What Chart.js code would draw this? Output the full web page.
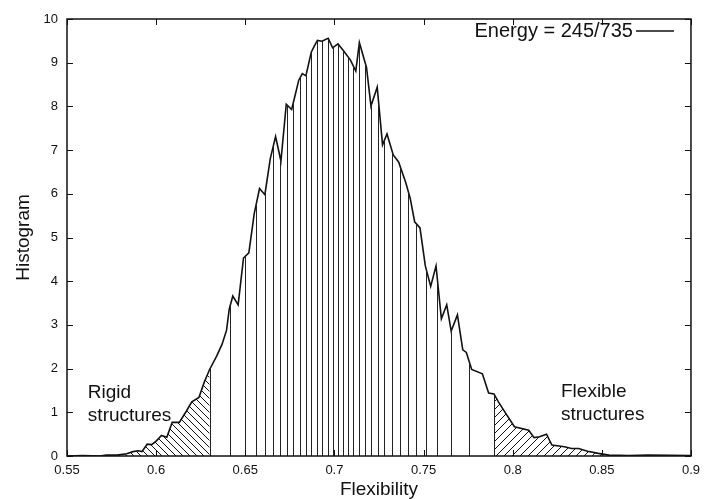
<!DOCTYPE html>
<html>
<head>
<meta charset="utf-8">
<script src="https://cdn.jsdelivr.net/npm/chart.js@4.4.1/dist/chart.umd.min.js"></script>
<style>
html, body { margin:0; padding:0; background:#fff; }
</style>
</head>
<body>
<canvas id="canvasGraph" width="707" height="499"></canvas>
<script>
var flexibilite = [0.550,0.559,0.5685,0.572,0.578,0.5835,0.587,0.590,0.592,0.595,0.5975,0.600,0.603,0.606,0.609,0.613,0.617,0.620,0.624,0.627,
    0.630,0.634,0.637,0.6395,0.641,0.643,0.646,0.649,0.652,0.655,0.658,0.661,0.664,0.667,0.670,0.673,0.676,0.678,0.680,0.682,
    0.684,0.687,0.689,0.6905,0.693,0.6965,0.699,0.702,0.705,0.709,0.712,0.714,0.718,0.7205,0.724,0.727,0.7295,0.733,0.736,0.740,
    0.7425,0.745,0.748,0.751,0.754,0.757,0.760,0.763,0.7655,0.769,0.772,0.774,0.777,0.783,0.7865,0.7895,0.792,0.796,0.801,0.809,
    0.812,0.815,0.819,0.822,0.829,0.833,0.837,0.842,0.848,0.854,0.865,0.876,0.900];
var histogramme = [0,0.01,0,0.02,0.02,0.05,0.10,0.12,0.10,0.27,0.26,0.34,0.47,0.43,0.77,0.77,1.03,1.24,1.34,1.69,
    1.98,2.29,2.56,2.88,3.36,3.66,3.46,4.53,4.65,5.54,6.12,5.98,6.80,7.31,6.75,8.05,7.93,8.26,8.60,8.75,
    8.70,9.24,9.40,9.51,9.49,9.56,9.34,9.43,9.28,9.06,8.81,9.46,8.89,8.01,8.44,7.12,7.37,6.89,6.73,6.26,
    5.90,5.36,5.22,4.35,3.88,4.35,3.14,3.46,2.86,3.23,2.43,2.37,1.98,1.88,1.44,1.42,1.24,0.98,0.67,0.59,
    0.42,0.44,0.50,0.25,0.21,0.17,0.17,0.11,0.06,0.02,0.01,0.02,0.01];
// bornes des bandes verticales sous la courbe
var limitesBandes = [0.630,0.6414,0.6501,0.6559,0.6611,0.6655,0.6695,0.6734,0.6770,0.6805,0.6839,0.6871,0.6902,0.6933,
    0.6963,0.6991,0.7019,0.7047,0.7077,0.7106,0.7138,0.7172,0.7205,0.7243,0.7280,0.7323,0.7366,0.7412,0.7457,0.7513,
    0.7574,0.7656,0.7753,0.7895];
var limiteRigide = 0.630;
var limiteFlexible = 0.7895;
var xTicks = [0.55,0.6,0.65,0.7,0.75,0.8,0.85,0.9];
var yTicks = [0,1,2,3,4,5,6,7,8,9,10];
var legende = "Energy = 245/735";
var annotations = [
    {texte:"Rigid", x:0.5617, y:1.33},
    {texte:"structures", x:0.5617, y:0.80},
    {texte:"Flexible", x:0.8271, y:1.36},
    {texte:"structures", x:0.8271, y:0.82}
];

var police = "'Liberation Sans', Arial, Helvetica, sans-serif";

function hachure(sens, pas)
{
    var c = document.createElement('canvas');
    c.width = pas; c.height = pas;
    var g = c.getContext('2d');
    g.strokeStyle = '#111';
    g.lineWidth = 1;
    g.beginPath();
    if (sens == 'gauche') {
        g.moveTo(-1,-1); g.lineTo(pas+1,pas+1);
        g.moveTo(-1,pas-1); g.lineTo(1,pas+1);
        g.moveTo(pas-1,-1); g.lineTo(pas+1,1);
    } else {
        g.moveTo(-1,pas+1); g.lineTo(pas+1,-1);
        g.moveTo(-1,1); g.lineTo(1,-1);
        g.moveTo(pas-1,pas+1); g.lineTo(pas+1,pas-1);
    }
    g.stroke();
    return g.createPattern(c, 'repeat');
}

var points = [], gauche = [], droite = [];
for (var i in flexibilite) {
    var p = {x: flexibilite[i], y: histogramme[i]};
    points.push(p);
    if (p.x <= limiteRigide) gauche.push(p);
    if (p.x >= limiteFlexible) droite.push(p);
}

var bandes = {
    id: 'bandes',
    afterDatasetsDraw: function(chart) {
        var ctx = chart.ctx, meta = chart.getDatasetMeta(0);
        var sx = chart.scales.x, sy = chart.scales.y;
        var bas = sy.getPixelForValue(0);
        var pts = meta.data;
        ctx.save();
        ctx.beginPath();
        ctx.moveTo(pts[0].x, bas);
        for (var k = 0; k < pts.length; k++) ctx.lineTo(pts[k].x, pts[k].y);
        ctx.lineTo(pts[pts.length-1].x, bas);
        ctx.closePath();
        ctx.clip();
        ctx.strokeStyle = '#222';
        ctx.lineWidth = 1;
        limitesBandes.forEach(function(v) {
            var x = Math.round(sx.getPixelForValue(v)) + 0.5;
            ctx.beginPath();
            ctx.moveTo(x, bas);
            ctx.lineTo(x, chart.chartArea.top);
            ctx.stroke();
        });
        ctx.restore();
    }
};

var cadre = {
    id: 'cadre',
    afterDraw: function(chart) {
        var ctx = chart.ctx, a = chart.chartArea;
        var sx = chart.scales.x, sy = chart.scales.y;
        ctx.save();
        ctx.strokeStyle = '#111';
        ctx.lineWidth = 1.5;
        ctx.strokeRect(a.left, a.top, a.right - a.left, a.bottom - a.top);
        ctx.lineWidth = 1;
        ctx.beginPath();
        yTicks.forEach(function(v) {
            var y = Math.round(sy.getPixelForValue(v)) + 0.5;
            ctx.moveTo(a.left, y); ctx.lineTo(a.left + 6, y);
            ctx.moveTo(a.right, y); ctx.lineTo(a.right - 6, y);
        });
        xTicks.forEach(function(v) {
            var x = Math.round(sx.getPixelForValue(v)) + 0.5;
            ctx.moveTo(x, a.bottom); ctx.lineTo(x, a.bottom - 6);
            ctx.moveTo(x, a.top); ctx.lineTo(x, a.top + 6);
        });
        ctx.stroke();

        // textes
        ctx.fillStyle = '#111';
        ctx.font = "19px " + police;
        ctx.textBaseline = 'alphabetic';
        ctx.textAlign = 'left';
        annotations.forEach(function(t) {
            ctx.fillText(t.texte, sx.getPixelForValue(t.x), sy.getPixelForValue(t.y));
        });

        // legende
        ctx.textAlign = 'right';
        ctx.textBaseline = 'middle';
        ctx.font = "20px " + police;
        ctx.fillText(legende, a.right - 58, a.top + 12);
        ctx.lineWidth = 1.5;
        ctx.beginPath();
        ctx.moveTo(a.right - 55, a.top + 12);
        ctx.lineTo(a.right - 17, a.top + 12);
        ctx.stroke();
        ctx.restore();
    }
};

var graphTarget = document.getElementById('canvasGraph');
var myGraph = new Chart(graphTarget, {
    type: 'line',
    data: {
        datasets: [
            {
                label: legende,
                data: points,
                borderColor: '#111',
                borderWidth: 1.6,
                pointRadius: 0,
                tension: 0,
                fill: false,
                order: 0
            },
            {
                data: gauche,
                borderWidth: 0,
                borderColor: 'rgba(0,0,0,0)',
                pointRadius: 0,
                fill: 'origin',
                backgroundColor: hachure('gauche', 7),
                order: 1
            },
            {
                data: droite,
                borderWidth: 0,
                borderColor: 'rgba(0,0,0,0)',
                pointRadius: 0,
                fill: 'origin',
                backgroundColor: hachure('droite', 8),
                order: 1
            }
        ]
    },
    options: {
        responsive: false,
        animation: false,
        layout: { padding: { top: 19, right: 14, left: 14, bottom: 0 } },
        plugins: {
            legend: { display: false },
            tooltip: { enabled: false }
        },
        scales: {
            x: {
                type: 'linear',
                min: 0.55,
                max: 0.9,
                afterBuildTicks: function(s) { s.ticks = xTicks.map(function(v) { return {value: v}; }); },
                afterFit: function(s) { s.height = 43; },
                grid: { display: false, drawTicks: false },
                border: { display: false },
                ticks: {
                    padding: 7,
                    color: '#111',
                    maxRotation: 0,
                    font: { family: police, size: 13 },
                    callback: function(v) { return String(v); }
                },
                title: {
                    display: true,
                    text: 'Flexibility',
                    color: '#111',
                    padding: 0,
                    font: { family: police, size: 19, lineHeight: 1 }
                }
            },
            y: {
                min: 0,
                max: 10,
                afterBuildTicks: function(s) { s.ticks = yTicks.map(function(v) { return {value: v}; }); },
                afterFit: function(s) { s.width = 53; },
                grid: { display: false, drawTicks: false },
                border: { display: false },
                ticks: {
                    padding: 9,
                    color: '#111',
                    font: { family: police, size: 13 }
                },
                title: {
                    display: true,
                    text: 'Histogram',
                    color: '#111',
                    padding: 0,
                    font: { family: police, size: 19, lineHeight: 1 }
                }
            }
        }
    },
    plugins: [bandes, cadre]
});
</script>
</body>
</html>
